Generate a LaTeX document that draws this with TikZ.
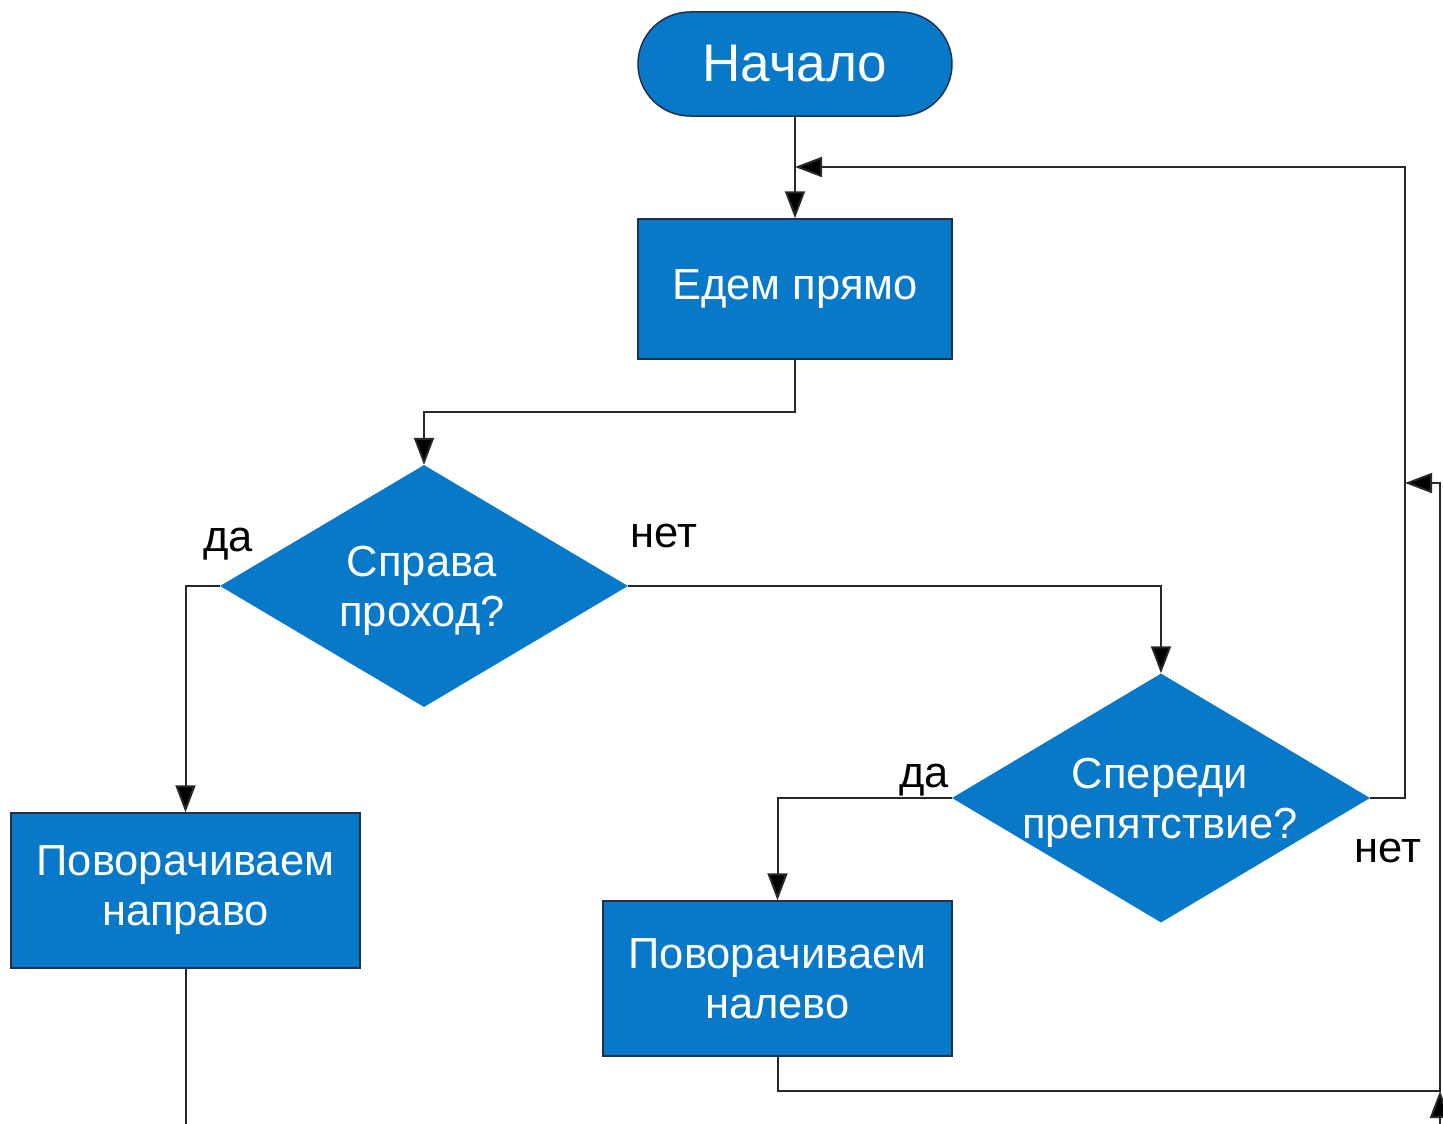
\documentclass[tikz,border=0pt]{standalone}
\usepackage{fontspec}
\setmainfont{Liberation Sans}
\usetikzlibrary{shapes.geometric,arrows.meta,positioning}
\definecolor{boxblue}{RGB}{8,120,200}
\definecolor{boxedge}{RGB}{30,50,75}
\definecolor{linecol}{RGB}{40,40,40}
\tikzset{
  blk/.style={draw=boxedge,line width=1.5pt,fill=boxblue,text=white,inner sep=0pt,
    align=center,font=\fontsize{43.5}{50}\selectfont},
  term/.style={blk,rectangle,rounded corners=52pt,minimum width=314pt,minimum height=104pt,
    font=\fontsize{53}{60}\selectfont},
  proc/.style={blk,rectangle,minimum width=314pt,minimum height=140pt},
  proc2/.style={blk,rectangle,minimum width=349pt,minimum height=155pt},
  decis/.style={draw=none,fill=boxblue,diamond,inner sep=0pt},
  dtext/.style={text=white,align=center,inner sep=0pt,font=\fontsize{43.5}{50}\selectfont},
  lbl/.style={text=black,inner sep=0pt,font=\fontsize{43.5}{50}\selectfont},
  conn/.style={draw=linecol,line width=2pt},
  arr/.style={conn,-{Triangle[length=27pt,width=20pt,fill=black]}},
}
\begin{document}
\begin{tikzpicture}[x=1pt,y=-1pt]
\useasboundingbox[fill=white] (0,0) rectangle (1443,1124);
\node[term] (start) at (795,64) {Начало};
\node[proc] (go) at (795,289) {\raisebox{-5pt}{Едем прямо}};
\node[decis,minimum width=408pt,minimum height=242pt] (d1) at (424,586) {};
\node[dtext] (d1t) at (422,591) {Справа\\проход?};
\node[decis,minimum width=418pt,minimum height=249pt] (d2) at (1161,798) {};
\node[dtext] (d2t) at (1160,803) {Спереди\\препятствие?};
\node[proc2] (rbox) at (185.5,890.5) {\raisebox{-4pt}{Поворачиваем}\\\raisebox{-4pt}{направо}};
\node[proc2] (lbox) at (777.5,978.5) {\raisebox{-4pt}{Поворачиваем}\\\raisebox{-4pt}{налево}};

\node[lbl] (l1) at (228,544) {да};
\node[lbl] (l2) at (664,536) {нет};
\node[lbl] (l3) at (924,780) {да};
\node[lbl] (l4) at (1388,851) {нет};

\coordinate (j1) at (795,167);
\coordinate (j2) at (1405,483);
\coordinate (c2) at (1440,1091);
\coordinate (e1) at (185.5,1124);
\coordinate (e2) at (1440,1124);

\draw[arr] (start.south) -- (go.north);
\draw[arr] (go.south) -- ++(0,52) -| (d1.north);
\draw[arr] (d1.west) -| (rbox.north);
\draw[arr] (d1.east) -| (d2.north);
\draw[arr] (d2.west) -| (lbox.north);
\draw[arr] (d2.east) -- ++(35,0) |- (j1);
\draw[arr] (lbox.south) |- (c2) |- (j2);
\draw[conn] (rbox.south) -- (e1);
\draw[arr] (e2) -- (c2);
\end{tikzpicture}
\end{document}
